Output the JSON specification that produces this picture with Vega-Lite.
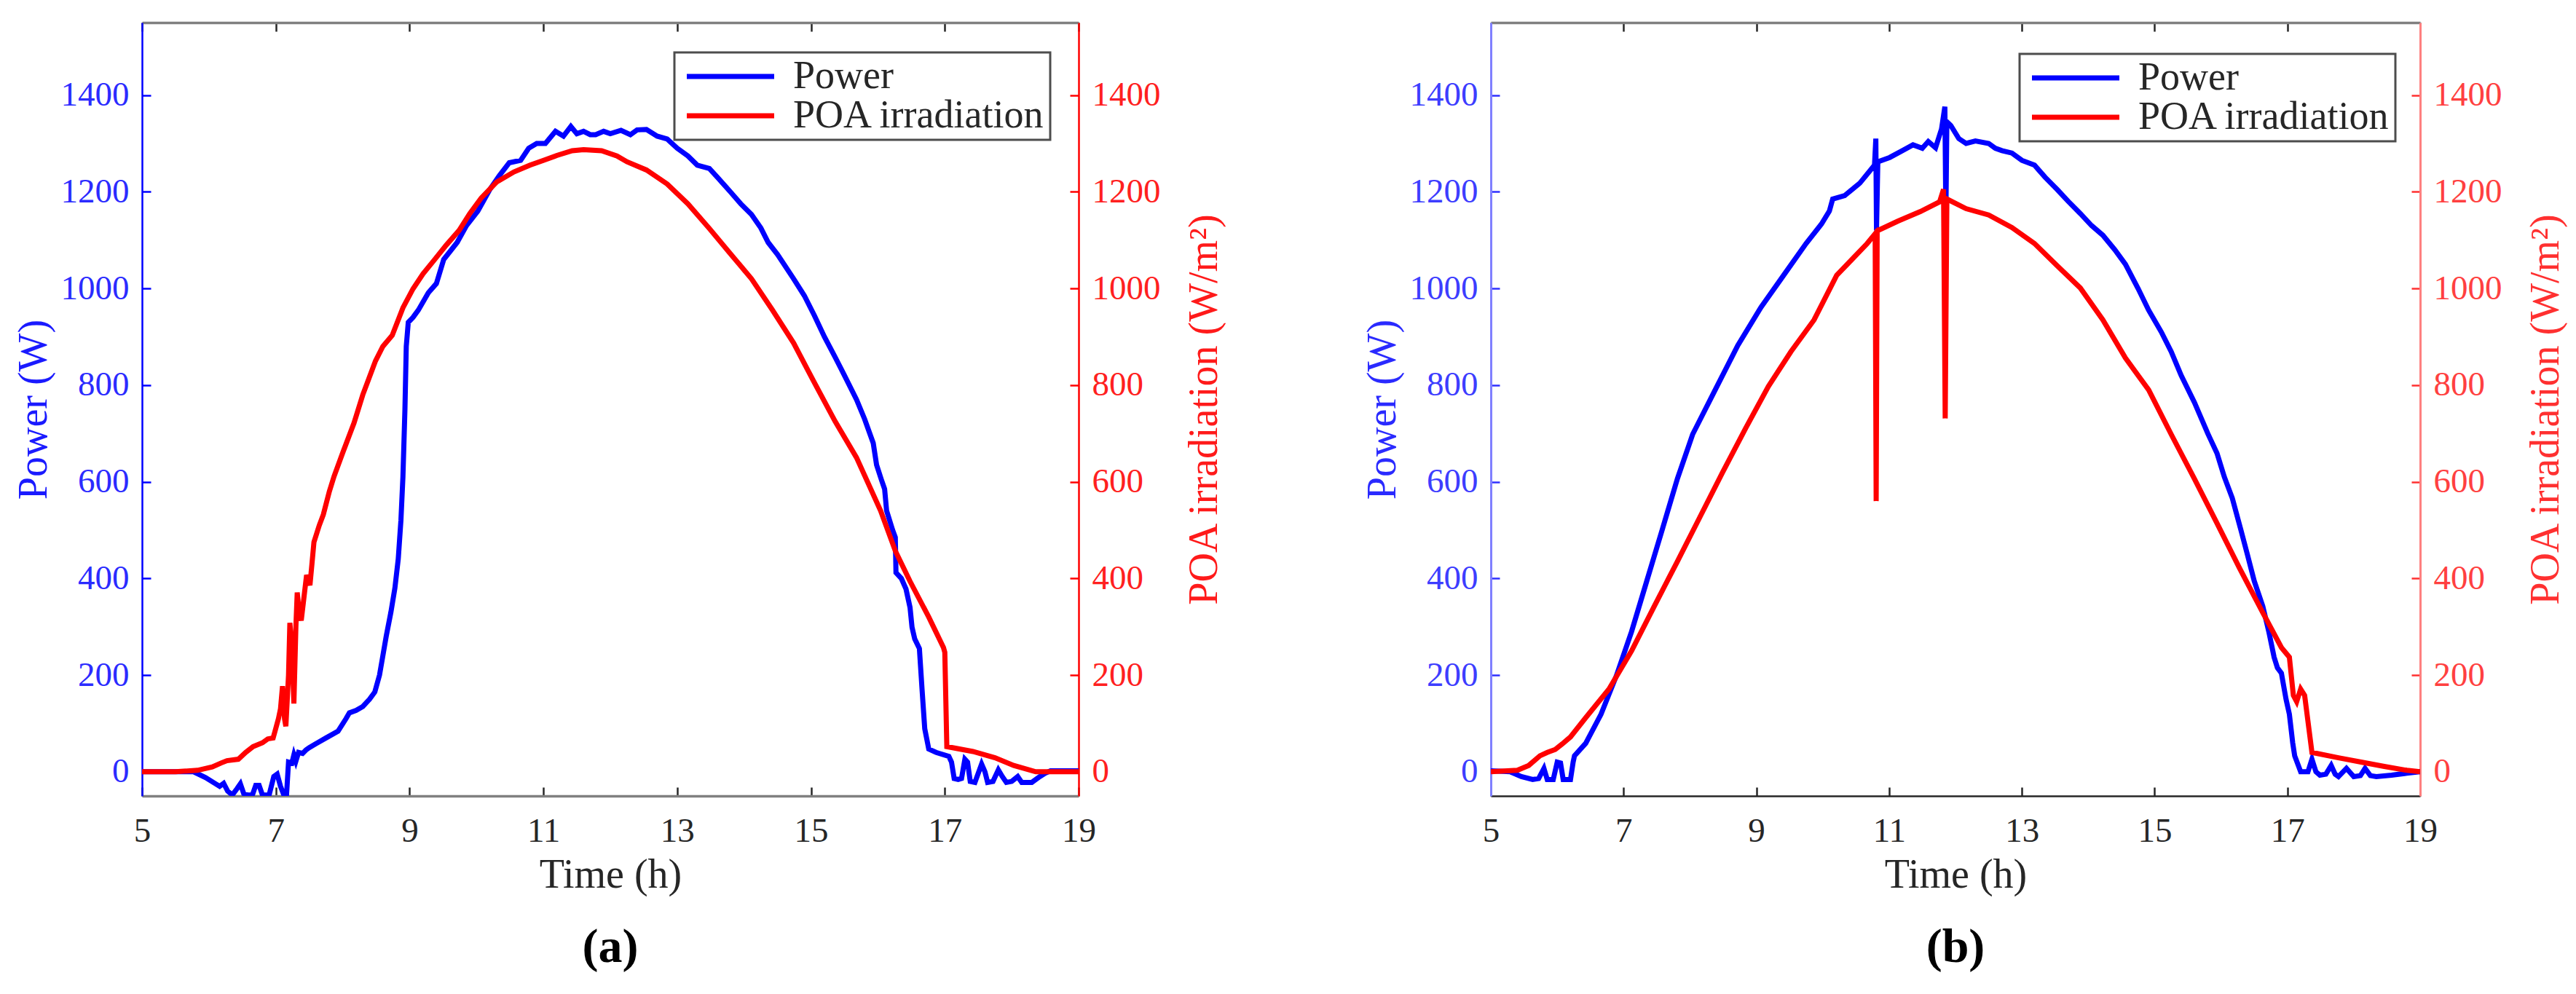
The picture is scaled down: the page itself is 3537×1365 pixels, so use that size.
{
  "$schema": "https://vega.github.io/schema/vega-lite/v6.json",
  "description": "Power and POA irradiation over the day, two days (a) and (b)",
  "padding": {"left": 18, "top": 29, "right": 5, "bottom": 5},
  "config": {
    "font": "Liberation Serif",
    "view": {"stroke": null},
    "axis": {
      "grid": false,
      "labelFont": "Liberation Serif",
      "titleFont": "Liberation Serif",
      "labelFontSize": 47,
      "titleFontSize": 56,
      "titleFontWeight": "normal",
      "tickSize": -12,
      "tickWidth": 2.5,
      "labelPadding": 30,
      "titlePadding": 8,
      "labelFlush": false,
      "labelOverlap": false,
      "format": "d"
    },
    "legend": {
      "title": null,
      "orient": "none",
      "strokeColor": "#4d4d4d",
      "strokeWidth": 3,
      "fillColor": "white",
      "padding": 6,
      "labelFont": "Liberation Serif",
      "labelFontSize": 54,
      "labelColor": "#262626",
      "labelLimit": 1000,
      "symbolType": "M-4,0H4",
      "symbolSize": 900,
      "symbolStrokeWidth": 7,
      "symbolOffset": 44,
      "labelOffset": 59,
      "rowPadding": 0
    },
    "title": {
      "font": "Liberation Serif",
      "fontSize": 66,
      "fontWeight": "bold",
      "color": "black",
      "orient": "bottom",
      "frame": "group",
      "anchor": "middle",
      "offset": 40
    }
  },
  "datasets": {
    "aP": [
      {"s": "Power", "t": 5.0, "v": 0}, {"s": "Power", "t": 5.4, "v": 0}, {"s": "Power", "t": 5.77, "v": 0},
      {"s": "Power", "t": 5.95, "v": -12}, {"s": "Power", "t": 6.1, "v": -25}, {"s": "Power", "t": 6.16, "v": -30},
      {"s": "Power", "t": 6.22, "v": -24}, {"s": "Power", "t": 6.28, "v": -40}, {"s": "Power", "t": 6.35, "v": -48},
      {"s": "Power", "t": 6.42, "v": -35}, {"s": "Power", "t": 6.47, "v": -25}, {"s": "Power", "t": 6.52, "v": -45},
      {"s": "Power", "t": 6.58, "v": -48}, {"s": "Power", "t": 6.65, "v": -48}, {"s": "Power", "t": 6.7, "v": -28},
      {"s": "Power", "t": 6.75, "v": -28}, {"s": "Power", "t": 6.8, "v": -48}, {"s": "Power", "t": 6.9, "v": -48},
      {"s": "Power", "t": 6.97, "v": -10}, {"s": "Power", "t": 7.02, "v": -5}, {"s": "Power", "t": 7.07, "v": -30},
      {"s": "Power", "t": 7.12, "v": -48}, {"s": "Power", "t": 7.16, "v": -48}, {"s": "Power", "t": 7.19, "v": 20},
      {"s": "Power", "t": 7.24, "v": 18}, {"s": "Power", "t": 7.27, "v": 35}, {"s": "Power", "t": 7.3, "v": 22},
      {"s": "Power", "t": 7.34, "v": 40}, {"s": "Power", "t": 7.4, "v": 38}, {"s": "Power", "t": 7.45, "v": 45},
      {"s": "Power", "t": 7.5, "v": 50}, {"s": "Power", "t": 7.6, "v": 58}, {"s": "Power", "t": 7.75, "v": 70},
      {"s": "Power", "t": 7.93, "v": 84}, {"s": "Power", "t": 8.05, "v": 110}, {"s": "Power", "t": 8.1, "v": 122},
      {"s": "Power", "t": 8.2, "v": 127}, {"s": "Power", "t": 8.3, "v": 135}, {"s": "Power", "t": 8.4, "v": 150},
      {"s": "Power", "t": 8.48, "v": 165}, {"s": "Power", "t": 8.55, "v": 200}, {"s": "Power", "t": 8.6, "v": 240},
      {"s": "Power", "t": 8.65, "v": 280}, {"s": "Power", "t": 8.72, "v": 330}, {"s": "Power", "t": 8.78, "v": 380},
      {"s": "Power", "t": 8.83, "v": 440}, {"s": "Power", "t": 8.87, "v": 520}, {"s": "Power", "t": 8.9, "v": 610},
      {"s": "Power", "t": 8.93, "v": 750}, {"s": "Power", "t": 8.95, "v": 880}, {"s": "Power", "t": 8.98, "v": 930},
      {"s": "Power", "t": 9.05, "v": 940}, {"s": "Power", "t": 9.13, "v": 955}, {"s": "Power", "t": 9.28, "v": 991},
      {"s": "Power", "t": 9.4, "v": 1010}, {"s": "Power", "t": 9.51, "v": 1060}, {"s": "Power", "t": 9.71, "v": 1095},
      {"s": "Power", "t": 9.85, "v": 1130}, {"s": "Power", "t": 10.02, "v": 1160}, {"s": "Power", "t": 10.2, "v": 1205},
      {"s": "Power", "t": 10.34, "v": 1233}, {"s": "Power", "t": 10.49, "v": 1260}, {"s": "Power", "t": 10.66, "v": 1265},
      {"s": "Power", "t": 10.78, "v": 1290}, {"s": "Power", "t": 10.9, "v": 1300}, {"s": "Power", "t": 11.03, "v": 1300},
      {"s": "Power", "t": 11.18, "v": 1325}, {"s": "Power", "t": 11.3, "v": 1315}, {"s": "Power", "t": 11.41, "v": 1335},
      {"s": "Power", "t": 11.5, "v": 1320}, {"s": "Power", "t": 11.6, "v": 1325}, {"s": "Power", "t": 11.7, "v": 1318},
      {"s": "Power", "t": 11.78, "v": 1318}, {"s": "Power", "t": 11.9, "v": 1325}, {"s": "Power", "t": 12.0, "v": 1320},
      {"s": "Power", "t": 12.16, "v": 1327}, {"s": "Power", "t": 12.3, "v": 1318}, {"s": "Power", "t": 12.4, "v": 1328},
      {"s": "Power", "t": 12.54, "v": 1329}, {"s": "Power", "t": 12.7, "v": 1315}, {"s": "Power", "t": 12.85, "v": 1309},
      {"s": "Power", "t": 13.0, "v": 1290}, {"s": "Power", "t": 13.16, "v": 1274}, {"s": "Power", "t": 13.3, "v": 1255},
      {"s": "Power", "t": 13.48, "v": 1248}, {"s": "Power", "t": 13.6, "v": 1230}, {"s": "Power", "t": 13.8, "v": 1199},
      {"s": "Power", "t": 13.95, "v": 1175}, {"s": "Power", "t": 14.11, "v": 1153}, {"s": "Power", "t": 14.25, "v": 1125},
      {"s": "Power", "t": 14.36, "v": 1095}, {"s": "Power", "t": 14.5, "v": 1070}, {"s": "Power", "t": 14.74, "v": 1020},
      {"s": "Power", "t": 14.9, "v": 985}, {"s": "Power", "t": 15.05, "v": 944}, {"s": "Power", "t": 15.2, "v": 900},
      {"s": "Power", "t": 15.36, "v": 858}, {"s": "Power", "t": 15.5, "v": 820}, {"s": "Power", "t": 15.68, "v": 770},
      {"s": "Power", "t": 15.8, "v": 730}, {"s": "Power", "t": 15.93, "v": 680}, {"s": "Power", "t": 15.98, "v": 635},
      {"s": "Power", "t": 16.05, "v": 605}, {"s": "Power", "t": 16.1, "v": 585}, {"s": "Power", "t": 16.13, "v": 540},
      {"s": "Power", "t": 16.22, "v": 500}, {"s": "Power", "t": 16.26, "v": 485}, {"s": "Power", "t": 16.27, "v": 412},
      {"s": "Power", "t": 16.35, "v": 400}, {"s": "Power", "t": 16.42, "v": 378}, {"s": "Power", "t": 16.48, "v": 340},
      {"s": "Power", "t": 16.51, "v": 299}, {"s": "Power", "t": 16.55, "v": 275}, {"s": "Power", "t": 16.62, "v": 255},
      {"s": "Power", "t": 16.66, "v": 170}, {"s": "Power", "t": 16.7, "v": 89}, {"s": "Power", "t": 16.76, "v": 47},
      {"s": "Power", "t": 16.87, "v": 40}, {"s": "Power", "t": 17.06, "v": 32}, {"s": "Power", "t": 17.1, "v": 20},
      {"s": "Power", "t": 17.14, "v": -14}, {"s": "Power", "t": 17.2, "v": -16}, {"s": "Power", "t": 17.25, "v": -14},
      {"s": "Power", "t": 17.3, "v": 26}, {"s": "Power", "t": 17.34, "v": 20}, {"s": "Power", "t": 17.38, "v": -20},
      {"s": "Power", "t": 17.45, "v": -22}, {"s": "Power", "t": 17.55, "v": 16}, {"s": "Power", "t": 17.6, "v": 0},
      {"s": "Power", "t": 17.64, "v": -22}, {"s": "Power", "t": 17.72, "v": -20}, {"s": "Power", "t": 17.8, "v": 4},
      {"s": "Power", "t": 17.86, "v": -10}, {"s": "Power", "t": 17.92, "v": -22}, {"s": "Power", "t": 18.0, "v": -20},
      {"s": "Power", "t": 18.09, "v": -10}, {"s": "Power", "t": 18.15, "v": -22}, {"s": "Power", "t": 18.3, "v": -22},
      {"s": "Power", "t": 18.42, "v": -10}, {"s": "Power", "t": 18.5, "v": -3}, {"s": "Power", "t": 18.58, "v": 2},
      {"s": "Power", "t": 19.0, "v": 2}
    ],
    "aR": [
      {"s": "POA irradiation", "t": 5.0, "v": 0}, {"s": "POA irradiation", "t": 5.5, "v": 0}, {"s": "POA irradiation", "t": 5.83, "v": 3},
      {"s": "POA irradiation", "t": 6.05, "v": 10}, {"s": "POA irradiation", "t": 6.18, "v": 18}, {"s": "POA irradiation", "t": 6.27, "v": 23},
      {"s": "POA irradiation", "t": 6.44, "v": 26}, {"s": "POA irradiation", "t": 6.55, "v": 40}, {"s": "POA irradiation", "t": 6.66, "v": 52},
      {"s": "POA irradiation", "t": 6.8, "v": 60}, {"s": "POA irradiation", "t": 6.88, "v": 68}, {"s": "POA irradiation", "t": 6.96, "v": 70},
      {"s": "POA irradiation", "t": 7.0, "v": 90}, {"s": "POA irradiation", "t": 7.04, "v": 110}, {"s": "POA irradiation", "t": 7.07, "v": 130},
      {"s": "POA irradiation", "t": 7.1, "v": 177}, {"s": "POA irradiation", "t": 7.13, "v": 110}, {"s": "POA irradiation", "t": 7.15, "v": 94},
      {"s": "POA irradiation", "t": 7.19, "v": 200}, {"s": "POA irradiation", "t": 7.21, "v": 308}, {"s": "POA irradiation", "t": 7.24, "v": 260},
      {"s": "POA irradiation", "t": 7.27, "v": 141}, {"s": "POA irradiation", "t": 7.3, "v": 300}, {"s": "POA irradiation", "t": 7.32, "v": 371},
      {"s": "POA irradiation", "t": 7.35, "v": 330}, {"s": "POA irradiation", "t": 7.38, "v": 313}, {"s": "POA irradiation", "t": 7.42, "v": 360},
      {"s": "POA irradiation", "t": 7.46, "v": 407}, {"s": "POA irradiation", "t": 7.51, "v": 386}, {"s": "POA irradiation", "t": 7.54, "v": 430},
      {"s": "POA irradiation", "t": 7.57, "v": 475}, {"s": "POA irradiation", "t": 7.65, "v": 510}, {"s": "POA irradiation", "t": 7.71, "v": 532},
      {"s": "POA irradiation", "t": 7.8, "v": 580}, {"s": "POA irradiation", "t": 7.87, "v": 611}, {"s": "POA irradiation", "t": 8.0, "v": 660},
      {"s": "POA irradiation", "t": 8.17, "v": 722}, {"s": "POA irradiation", "t": 8.3, "v": 780}, {"s": "POA irradiation", "t": 8.49, "v": 850},
      {"s": "POA irradiation", "t": 8.6, "v": 880}, {"s": "POA irradiation", "t": 8.74, "v": 903}, {"s": "POA irradiation", "t": 8.9, "v": 960},
      {"s": "POA irradiation", "t": 9.05, "v": 999}, {"s": "POA irradiation", "t": 9.2, "v": 1030}, {"s": "POA irradiation", "t": 9.37, "v": 1059},
      {"s": "POA irradiation", "t": 9.55, "v": 1090}, {"s": "POA irradiation", "t": 9.74, "v": 1120}, {"s": "POA irradiation", "t": 9.9, "v": 1155},
      {"s": "POA irradiation", "t": 10.07, "v": 1187}, {"s": "POA irradiation", "t": 10.3, "v": 1220}, {"s": "POA irradiation", "t": 10.56, "v": 1241},
      {"s": "POA irradiation", "t": 10.8, "v": 1255}, {"s": "POA irradiation", "t": 11.0, "v": 1265}, {"s": "POA irradiation", "t": 11.2, "v": 1275},
      {"s": "POA irradiation", "t": 11.43, "v": 1285}, {"s": "POA irradiation", "t": 11.6, "v": 1287}, {"s": "POA irradiation", "t": 11.87, "v": 1285},
      {"s": "POA irradiation", "t": 12.1, "v": 1274}, {"s": "POA irradiation", "t": 12.25, "v": 1262}, {"s": "POA irradiation", "t": 12.54, "v": 1245},
      {"s": "POA irradiation", "t": 12.85, "v": 1216}, {"s": "POA irradiation", "t": 13.16, "v": 1175}, {"s": "POA irradiation", "t": 13.48, "v": 1124},
      {"s": "POA irradiation", "t": 13.8, "v": 1071}, {"s": "POA irradiation", "t": 14.11, "v": 1020}, {"s": "POA irradiation", "t": 14.42, "v": 956},
      {"s": "POA irradiation", "t": 14.74, "v": 887}, {"s": "POA irradiation", "t": 15.05, "v": 805}, {"s": "POA irradiation", "t": 15.36, "v": 725},
      {"s": "POA irradiation", "t": 15.68, "v": 650}, {"s": "POA irradiation", "t": 16.04, "v": 540}, {"s": "POA irradiation", "t": 16.26, "v": 457},
      {"s": "POA irradiation", "t": 16.48, "v": 394}, {"s": "POA irradiation", "t": 16.76, "v": 320}, {"s": "POA irradiation", "t": 16.98, "v": 257},
      {"s": "POA irradiation", "t": 17.0, "v": 247}, {"s": "POA irradiation", "t": 17.03, "v": 52}, {"s": "POA irradiation", "t": 17.42, "v": 42},
      {"s": "POA irradiation", "t": 17.75, "v": 29}, {"s": "POA irradiation", "t": 18.03, "v": 13}, {"s": "POA irradiation", "t": 18.36, "v": 0},
      {"s": "POA irradiation", "t": 19.0, "v": 0}
    ],
    "bP": [
      {"s": "Power", "t": 5.0, "v": 2}, {"s": "Power", "t": 5.29, "v": 0}, {"s": "Power", "t": 5.46, "v": -10},
      {"s": "Power", "t": 5.63, "v": -16}, {"s": "Power", "t": 5.72, "v": -14}, {"s": "Power", "t": 5.8, "v": 7},
      {"s": "Power", "t": 5.85, "v": -16}, {"s": "Power", "t": 5.94, "v": -16}, {"s": "Power", "t": 6.0, "v": 20},
      {"s": "Power", "t": 6.05, "v": 18}, {"s": "Power", "t": 6.09, "v": -16}, {"s": "Power", "t": 6.2, "v": -16},
      {"s": "Power", "t": 6.24, "v": 20}, {"s": "Power", "t": 6.26, "v": 33}, {"s": "Power", "t": 6.43, "v": 59},
      {"s": "Power", "t": 6.66, "v": 119}, {"s": "Power", "t": 6.89, "v": 198}, {"s": "Power", "t": 7.12, "v": 290},
      {"s": "Power", "t": 7.35, "v": 395}, {"s": "Power", "t": 7.58, "v": 500}, {"s": "Power", "t": 7.81, "v": 606},
      {"s": "Power", "t": 8.04, "v": 698}, {"s": "Power", "t": 8.38, "v": 790}, {"s": "Power", "t": 8.72, "v": 882},
      {"s": "Power", "t": 9.07, "v": 961}, {"s": "Power", "t": 9.41, "v": 1027}, {"s": "Power", "t": 9.75, "v": 1093},
      {"s": "Power", "t": 9.98, "v": 1133}, {"s": "Power", "t": 10.1, "v": 1160}, {"s": "Power", "t": 10.15, "v": 1185},
      {"s": "Power", "t": 10.33, "v": 1192}, {"s": "Power", "t": 10.56, "v": 1218}, {"s": "Power", "t": 10.78, "v": 1255},
      {"s": "Power", "t": 10.8, "v": 1310}, {"s": "Power", "t": 10.81, "v": 1120}, {"s": "Power", "t": 10.83, "v": 1262},
      {"s": "Power", "t": 11.01, "v": 1271}, {"s": "Power", "t": 11.2, "v": 1285}, {"s": "Power", "t": 11.36, "v": 1297},
      {"s": "Power", "t": 11.5, "v": 1290}, {"s": "Power", "t": 11.59, "v": 1304}, {"s": "Power", "t": 11.7, "v": 1291},
      {"s": "Power", "t": 11.79, "v": 1330}, {"s": "Power", "t": 11.84, "v": 1376}, {"s": "Power", "t": 11.855, "v": 1150},
      {"s": "Power", "t": 11.87, "v": 1345}, {"s": "Power", "t": 11.93, "v": 1337}, {"s": "Power", "t": 12.05, "v": 1310},
      {"s": "Power", "t": 12.16, "v": 1300}, {"s": "Power", "t": 12.3, "v": 1305}, {"s": "Power", "t": 12.5, "v": 1300},
      {"s": "Power", "t": 12.6, "v": 1290}, {"s": "Power", "t": 12.7, "v": 1285}, {"s": "Power", "t": 12.85, "v": 1280},
      {"s": "Power", "t": 13.0, "v": 1265}, {"s": "Power", "t": 13.19, "v": 1255}, {"s": "Power", "t": 13.35, "v": 1230},
      {"s": "Power", "t": 13.53, "v": 1205}, {"s": "Power", "t": 13.7, "v": 1180}, {"s": "Power", "t": 13.88, "v": 1155},
      {"s": "Power", "t": 14.05, "v": 1130}, {"s": "Power", "t": 14.22, "v": 1110}, {"s": "Power", "t": 14.4, "v": 1080},
      {"s": "Power", "t": 14.56, "v": 1050}, {"s": "Power", "t": 14.75, "v": 1000}, {"s": "Power", "t": 14.91, "v": 955},
      {"s": "Power", "t": 15.1, "v": 910}, {"s": "Power", "t": 15.25, "v": 869}, {"s": "Power", "t": 15.4, "v": 820},
      {"s": "Power", "t": 15.6, "v": 764}, {"s": "Power", "t": 15.8, "v": 700}, {"s": "Power", "t": 15.94, "v": 659},
      {"s": "Power", "t": 16.05, "v": 610}, {"s": "Power", "t": 16.17, "v": 566}, {"s": "Power", "t": 16.3, "v": 500},
      {"s": "Power", "t": 16.4, "v": 448}, {"s": "Power", "t": 16.5, "v": 395}, {"s": "Power", "t": 16.63, "v": 342},
      {"s": "Power", "t": 16.72, "v": 290}, {"s": "Power", "t": 16.8, "v": 237}, {"s": "Power", "t": 16.85, "v": 215},
      {"s": "Power", "t": 16.91, "v": 204}, {"s": "Power", "t": 16.98, "v": 150}, {"s": "Power", "t": 17.03, "v": 119},
      {"s": "Power", "t": 17.08, "v": 60}, {"s": "Power", "t": 17.11, "v": 33}, {"s": "Power", "t": 17.2, "v": 0},
      {"s": "Power", "t": 17.31, "v": 0}, {"s": "Power", "t": 17.37, "v": 26}, {"s": "Power", "t": 17.43, "v": 0},
      {"s": "Power", "t": 17.49, "v": -7}, {"s": "Power", "t": 17.58, "v": -5}, {"s": "Power", "t": 17.66, "v": 13},
      {"s": "Power", "t": 17.72, "v": -5}, {"s": "Power", "t": 17.77, "v": -10}, {"s": "Power", "t": 17.89, "v": 7},
      {"s": "Power", "t": 18.0, "v": -10}, {"s": "Power", "t": 18.1, "v": -8}, {"s": "Power", "t": 18.17, "v": 7},
      {"s": "Power", "t": 18.25, "v": -8}, {"s": "Power", "t": 18.34, "v": -10}, {"s": "Power", "t": 18.57, "v": -7},
      {"s": "Power", "t": 18.8, "v": -3}, {"s": "Power", "t": 19.0, "v": 0}
    ],
    "bR": [
      {"s": "POA irradiation", "t": 5.0, "v": 0}, {"s": "POA irradiation", "t": 5.4, "v": 3}, {"s": "POA irradiation", "t": 5.57, "v": 13},
      {"s": "POA irradiation", "t": 5.74, "v": 33}, {"s": "POA irradiation", "t": 5.85, "v": 40}, {"s": "POA irradiation", "t": 5.97, "v": 46},
      {"s": "POA irradiation", "t": 6.08, "v": 58}, {"s": "POA irradiation", "t": 6.2, "v": 72}, {"s": "POA irradiation", "t": 6.43, "v": 112},
      {"s": "POA irradiation", "t": 6.78, "v": 171}, {"s": "POA irradiation", "t": 7.12, "v": 250}, {"s": "POA irradiation", "t": 7.46, "v": 342},
      {"s": "POA irradiation", "t": 7.81, "v": 435}, {"s": "POA irradiation", "t": 8.15, "v": 527}, {"s": "POA irradiation", "t": 8.49, "v": 619},
      {"s": "POA irradiation", "t": 8.84, "v": 711}, {"s": "POA irradiation", "t": 9.18, "v": 797}, {"s": "POA irradiation", "t": 9.52, "v": 869},
      {"s": "POA irradiation", "t": 9.87, "v": 935}, {"s": "POA irradiation", "t": 10.21, "v": 1027}, {"s": "POA irradiation", "t": 10.44, "v": 1060},
      {"s": "POA irradiation", "t": 10.67, "v": 1093}, {"s": "POA irradiation", "t": 10.79, "v": 1113}, {"s": "POA irradiation", "t": 10.805, "v": 560},
      {"s": "POA irradiation", "t": 10.82, "v": 1119}, {"s": "POA irradiation", "t": 11.13, "v": 1139}, {"s": "POA irradiation", "t": 11.47, "v": 1159},
      {"s": "POA irradiation", "t": 11.76, "v": 1179}, {"s": "POA irradiation", "t": 11.82, "v": 1205}, {"s": "POA irradiation", "t": 11.845, "v": 731},
      {"s": "POA irradiation", "t": 11.87, "v": 1185}, {"s": "POA irradiation", "t": 12.16, "v": 1165}, {"s": "POA irradiation", "t": 12.5, "v": 1152},
      {"s": "POA irradiation", "t": 12.85, "v": 1126}, {"s": "POA irradiation", "t": 13.19, "v": 1093}, {"s": "POA irradiation", "t": 13.53, "v": 1047},
      {"s": "POA irradiation", "t": 13.88, "v": 1001}, {"s": "POA irradiation", "t": 14.22, "v": 935}, {"s": "POA irradiation", "t": 14.56, "v": 856},
      {"s": "POA irradiation", "t": 14.91, "v": 790}, {"s": "POA irradiation", "t": 15.25, "v": 698}, {"s": "POA irradiation", "t": 15.6, "v": 606},
      {"s": "POA irradiation", "t": 15.94, "v": 514}, {"s": "POA irradiation", "t": 16.28, "v": 421}, {"s": "POA irradiation", "t": 16.63, "v": 329},
      {"s": "POA irradiation", "t": 16.91, "v": 257}, {"s": "POA irradiation", "t": 17.03, "v": 237}, {"s": "POA irradiation", "t": 17.09, "v": 158},
      {"s": "POA irradiation", "t": 17.14, "v": 145}, {"s": "POA irradiation", "t": 17.2, "v": 171}, {"s": "POA irradiation", "t": 17.26, "v": 158},
      {"s": "POA irradiation", "t": 17.37, "v": 40}, {"s": "POA irradiation", "t": 17.77, "v": 29}, {"s": "POA irradiation", "t": 18.11, "v": 20},
      {"s": "POA irradiation", "t": 18.46, "v": 11}, {"s": "POA irradiation", "t": 18.8, "v": 3}, {"s": "POA irradiation", "t": 19.0, "v": 0}
    ]
  },
  "resolve": {"scale": {"color": "independent"}},
  "spacing": 189,
  "hconcat": [
    {
      "width": 1286,
      "height": 1062,
      "title": {"text": "(a)"},
      "layer": [
        {
          "data": {"name": "aP"},
          "mark": {"type": "line", "strokeWidth": 7, "clip": true},
          "encoding": {
            "x": {
              "field": "t", "type": "quantitative",
              "scale": {"domain": [5, 19], "nice": false},
              "axis": {
                "orient": "bottom", "values": [5, 7, 9, 11, 13, 15, 17, 19], "title": "Time (h)", "format": "d",
                "labelFont": "Liberation Serif", "titleFont": "Liberation Serif",
                "domainColor": "#808080", "domainWidth": 3.5, "tickColor": "#262626",
                "labelColor": "#262626", "titleColor": "#262626", "labelPadding": 37, "titlePadding": 10
              }
            },
            "y": {
              "field": "v", "type": "quantitative",
              "scale": {"domain": [-50, 1550], "nice": false, "zero": false},
              "axis": {
                "orient": "left", "values": [0, 200, 400, 600, 800, 1000, 1200, 1400], "title": "Power (W)", "format": "d",
                "labelFont": "Liberation Serif", "titleFont": "Liberation Serif",
                "domainColor": "#0000ff", "domainWidth": 2.5, "tickColor": "#0000ff",
                "labelColor": "#2b2bff", "titleColor": "#1a1aff"
              }
            },
            "color": {
              "field": "s", "type": "nominal",
              "scale": {"domain": ["Power", "POA irradiation"], "range": ["#0000ff", "#ff0000"]},
              "legend": {"legendX": 731, "legendY": 41}
            }
          }
        },
        {
          "data": {"name": "aR"},
          "mark": {"type": "line", "strokeWidth": 7, "clip": true},
          "encoding": {
            "x": {
              "field": "t", "type": "quantitative",
              "scale": {"domain": [5, 19], "nice": false},
              "axis": {
                "orient": "top", "values": [5, 7, 9, 11, 13, 15, 17, 19], "title": null, "labels": false,
                "domainColor": "#808080", "domainWidth": 3.5, "tickColor": "#262626"
              }
            },
            "y": {
              "field": "v", "type": "quantitative",
              "scale": {"domain": [-50, 1550], "nice": false, "zero": false},
              "axis": {
                "orient": "right", "values": [0, 200, 400, 600, 800, 1000, 1200, 1400], "title": "POA irradiation (W/m²)", "format": "d",
                "labelFont": "Liberation Serif", "titleFont": "Liberation Serif",
                "titleAngle": 270, "titleBaseline": "top", "titlePadding": 33,
                "domainColor": "#ff0000", "domainWidth": 2.5, "tickColor": "#ff0000",
                "labelColor": "#ff2020", "titleColor": "#ff1a1a"
              }
            },
            "color": {"field": "s", "type": "nominal"}
          }
        }
      ],
      "resolve": {"scale": {"y": "independent"}, "axis": {"x": "independent"}}
    },
    {
      "width": 1276,
      "height": 1062,
      "title": {"text": "(b)"},
      "layer": [
        {
          "data": {"name": "bP"},
          "mark": {"type": "line", "strokeWidth": 7, "clip": true},
          "encoding": {
            "x": {
              "field": "t", "type": "quantitative",
              "scale": {"domain": [5, 19], "nice": false},
              "axis": {
                "orient": "bottom", "values": [5, 7, 9, 11, 13, 15, 17, 19], "title": "Time (h)", "format": "d",
                "labelFont": "Liberation Serif", "titleFont": "Liberation Serif",
                "domainColor": "#262626", "domainWidth": 2.5, "tickColor": "#262626",
                "labelColor": "#262626", "titleColor": "#262626", "labelPadding": 37, "titlePadding": 10
              }
            },
            "y": {
              "field": "v", "type": "quantitative",
              "scale": {"domain": [-50, 1550], "nice": false, "zero": false},
              "axis": {
                "orient": "left", "values": [0, 200, 400, 600, 800, 1000, 1200, 1400], "title": "Power (W)", "format": "d",
                "labelFont": "Liberation Serif", "titleFont": "Liberation Serif",
                "domainColor": "#8080ff", "domainWidth": 3, "tickColor": "#3030ff",
                "labelColor": "#3d3dff", "titleColor": "#2a2aff"
              }
            },
            "color": {
              "field": "s", "type": "nominal",
              "scale": {"domain": ["Power", "POA irradiation"], "range": ["#0000ff", "#ff0000"]},
              "legend": {"legendX": 726, "legendY": 43}
            }
          }
        },
        {
          "data": {"name": "bR"},
          "mark": {"type": "line", "strokeWidth": 7, "clip": true},
          "encoding": {
            "x": {
              "field": "t", "type": "quantitative",
              "scale": {"domain": [5, 19], "nice": false},
              "axis": {
                "orient": "top", "values": [5, 7, 9, 11, 13, 15, 17, 19], "title": null, "labels": false,
                "domainColor": "#808080", "domainWidth": 3.5, "tickColor": "#262626"
              }
            },
            "y": {
              "field": "v", "type": "quantitative",
              "scale": {"domain": [-50, 1550], "nice": false, "zero": false},
              "axis": {
                "orient": "right", "values": [0, 200, 400, 600, 800, 1000, 1200, 1400], "title": "POA irradiation (W/m²)", "format": "d",
                "labelFont": "Liberation Serif", "titleFont": "Liberation Serif",
                "titleAngle": 270, "titleBaseline": "top", "titlePadding": 33,
                "domainColor": "#ff8080", "domainWidth": 3, "tickColor": "#ff3030",
                "labelColor": "#ff4040", "titleColor": "#ff3030"
              }
            },
            "color": {"field": "s", "type": "nominal"}
          }
        }
      ],
      "resolve": {"scale": {"y": "independent"}, "axis": {"x": "independent"}}
    }
  ]
}
